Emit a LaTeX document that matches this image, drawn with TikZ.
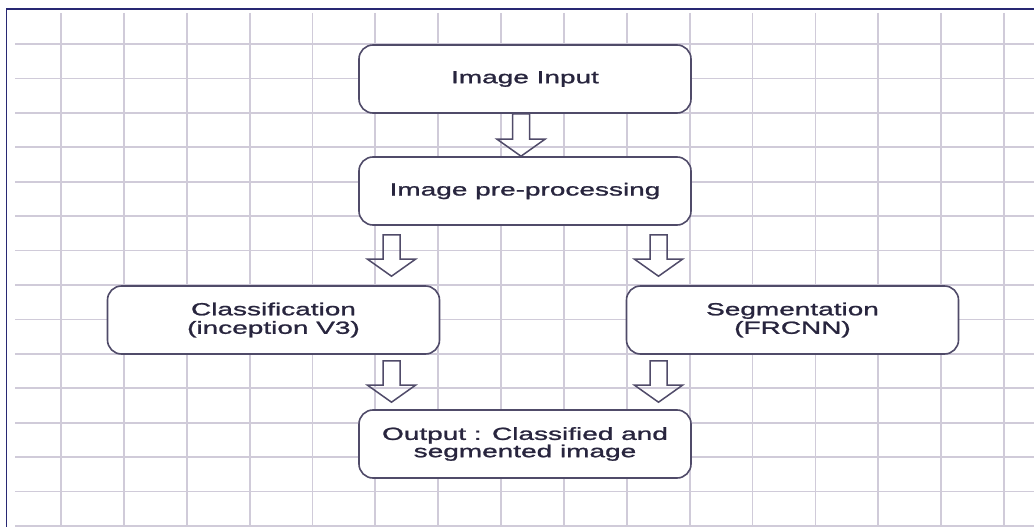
\documentclass[tikz,border=0pt]{standalone}
\usepackage{fontspec}
\setmainfont{Liberation Sans}
\newfontfamily\wideface[FakeStretch=1.6,FakeBold=1.3]{Liberation Sans}
\usetikzlibrary{calc}
\definecolor{gridc}{RGB}{208,203,217}
\definecolor{framec}{RGB}{40,40,115}
\definecolor{edgec}{RGB}{80,75,105}
\definecolor{inkc}{RGB}{40,37,62}
\tikzset{
  stage/.style={draw=edgec, line width=1.6pt, fill=white, rounded corners=14pt,
    minimum width=332pt, minimum height=68pt, inner sep=0pt, align=center,
    text=inkc, font=\wideface\fontsize{17.5}{18.5}\selectfont},
  hollow/.style={draw=edgec, line width=1.5pt, line join=miter},
  gridline/.style={draw=gridc, line width=1.8pt},
  frame/.style={draw=framec, line width=1.6pt}
}
% hollow block arrow pointing down: #1 = top of shaft, #2 = tip
\newcommand{\hollowdown}[2]{%
  \draw[hollow] ($(#1)+(-8.5,0)$) -- ($(#2)+(-8.5,-17)$) -- ($(#2)+(-24,-17)$)
    -- (#2) -- ($(#2)+(24,-17)$) -- ($(#2)+(8.5,-17)$) -- ($(#1)+(8.5,0)$) -- cycle;}
\begin{document}
\begin{tikzpicture}[x=1pt,y=-1pt]
\useasboundingbox (0,0) rectangle (1034,527);
\fill[white] (0,0) rectangle (1034,527);
% squared paper
\foreach \k in {0,...,14} \draw[gridline] (15,{44+34.43*\k}) -- (1034,{44+34.43*\k});
\foreach \k in {0,...,15} \draw[gridline] ({61+62.87*\k},13) -- ({61+62.87*\k},527);
\draw[frame] (1034,9) -- (6.5,9) -- (6.5,527);

% process stages
\node[stage] (input) at (525,79) {Image Input};
\node[stage] (prep) at (525,191) {Image pre-processing};
\node[stage] (cls) at (273.5,320) {Classification\\(inception V3)};
\node[stage] (seg) at (792.5,320) {Segmentation\\(FRCNN)};
\node[stage, font=\wideface\fontsize{17.5}{16}\selectfont] (out) at (525,444)
  {Output : Classified and\\segmented image};

% arrow anchors
\coordinate (a1s) at ($(input.south)+(-4,0)$);
\coordinate (a1e) at (a1s |- prep.north);
\coordinate (a2s) at ($(prep.south)+(-133.5,9)$);
\coordinate (a2e) at ($(a2s |- cls.north)+(0,-9)$);
\coordinate (a3s) at ($(prep.south)+(133.5,9)$);
\coordinate (a3e) at ($(a3s |- seg.north)+(0,-9)$);
\coordinate (a4s) at ($(cls.south -| a2s)+(0,6)$);
\coordinate (a4e) at ($(a4s |- out.north)+(0,-7)$);
\coordinate (a5s) at ($(seg.south -| a3s)+(0,6)$);
\coordinate (a5e) at ($(a5s |- out.north)+(0,-7)$);

\hollowdown{a1s}{a1e}
\hollowdown{a2s}{a2e}
\hollowdown{a3s}{a3e}
\hollowdown{a4s}{a4e}
\hollowdown{a5s}{a5e}
\end{tikzpicture}
\end{document}
